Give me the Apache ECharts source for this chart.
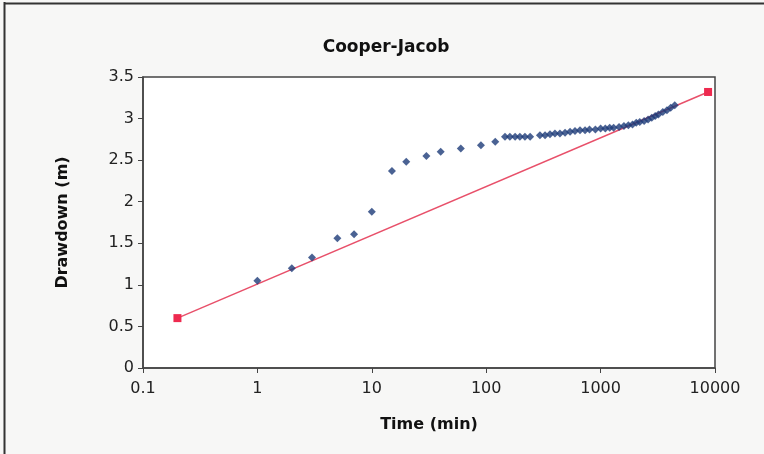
<!DOCTYPE html>
<html>
<head>
<meta charset="utf-8">
<script src="https://cdn.jsdelivr.net/npm/echarts@6/dist/echarts.min.js"></script>
<style>
html,body{margin:0;padding:0;background:#f7f7f6;}
#c{width:764px;height:454px;}
</style>
</head>
<body>
<div id="c"></div>
<script>
// Observed drawdown data (time in minutes, drawdown in m)
const obsTime = [1, 2, 3, 5, 7, 10, 15, 20, 30, 40, 60, 90, 120, 146, 161, 179, 197, 218, 242,
  295, 327, 361, 399, 441, 489, 541, 597, 661, 731, 800, 900, 1000, 1100, 1200, 1300, 1450,
  1600, 1750, 1900, 2050, 2200, 2400, 2600, 2800, 3000, 3200, 3500, 3800, 4100, 4450];
const obsDrawdown = [1.05, 1.2, 1.33, 1.56, 1.61, 1.88, 2.37, 2.48, 2.55, 2.6, 2.64, 2.68, 2.72, 2.78, 2.78, 2.78, 2.78, 2.78, 2.78,
  2.8, 2.8, 2.81, 2.82, 2.82, 2.83, 2.84, 2.85, 2.86, 2.86, 2.87, 2.87, 2.88, 2.88, 2.89, 2.89, 2.9,
  2.91, 2.92, 2.93, 2.95, 2.96, 2.97, 2.99, 3.01, 3.03, 3.05, 3.08, 3.1, 3.13, 3.16];
// Cooper-Jacob straight-line fit end points
const fitTime = [0.2, 8700];
const fitDrawdown = [0.6, 3.32];
// Axis ticks
const xTicks = [0.1, 1, 10, 100, 1000, 10000];
const yTicks = [0, 0.5, 1, 1.5, 2, 2.5, 3, 3.5];

const chart = echarts.init(document.getElementById('c'), null, {renderer: 'canvas'});
const font = '"DejaVu Sans", Arial, sans-serif';
chart.setOption({
  animation: false,
  backgroundColor: '#f7f7f6',
  title: {
    text: 'Cooper-Jacob',
    left: 381, top: 34, textAlign: 'center',
    textStyle: {fontFamily: font, fontSize: 17, fontWeight: 'bold', color: '#111'}
  },
  graphic: [
    {type: 'line', shape: {x1: 4.5, y1: 2, x2: 4.5, y2: 454}, style: {stroke: '#333', lineWidth: 2}},
    {type: 'line', shape: {x1: 4, y1: 3.5, x2: 764, y2: 3.5}, style: {stroke: '#333', lineWidth: 2}}
  ],
  grid: {
    left: 143, right: 49, top: 77, bottom: 86,
    show: true, backgroundColor: '#ffffff', borderColor: '#444', borderWidth: 1.5
  },
  xAxis: {
    type: 'log', logBase: 10, min: xTicks[0], max: xTicks[xTicks.length - 1],
    name: 'Time (min)', nameLocation: 'middle', nameGap: 49,
    nameTextStyle: {fontFamily: font, fontSize: 16, fontWeight: 'bold', color: '#111'},
    axisLine: {show: true, lineStyle: {color: '#444', width: 1.5}},
    axisTick: {show: true, inside: false, length: 5, lineStyle: {color: '#444'}},
    minorTick: {show: false},
    splitLine: {show: false},
    axisLabel: {
      fontFamily: font, fontSize: 16, color: '#222', margin: 13,
      formatter: function (v) { return String(+v.toPrecision(6)); }
    }
  },
  yAxis: {
    type: 'value', min: yTicks[0], max: yTicks[yTicks.length - 1], interval: 0.5,
    name: 'Drawdown (m)', nameLocation: 'middle', nameGap: 72,
    nameTextStyle: {fontFamily: font, fontSize: 16, fontWeight: 'bold', color: '#111'},
    axisLine: {show: true, lineStyle: {color: '#444', width: 1.5}},
    axisTick: {show: true, inside: false, length: 5, lineStyle: {color: '#444'}},
    splitLine: {show: false},
    axisLabel: {fontFamily: font, fontSize: 16, color: '#222', margin: 9}
  },
  series: [
    {
      type: 'line',
      data: fitTime.map((t, i) => [t, fitDrawdown[i]]),
      symbol: 'rect', symbolSize: 8,
      lineStyle: {color: '#e8506a', width: 1.5},
      itemStyle: {color: '#ee2a4f'},
      z: 2
    },
    {
      type: 'scatter',
      data: obsTime.map((t, i) => [t, obsDrawdown[i]]),
      symbol: 'diamond', symbolSize: 8,
      itemStyle: {color: '#1d3b78'},
      z: 3
    }
  ]
});
</script>
</body>
</html>
